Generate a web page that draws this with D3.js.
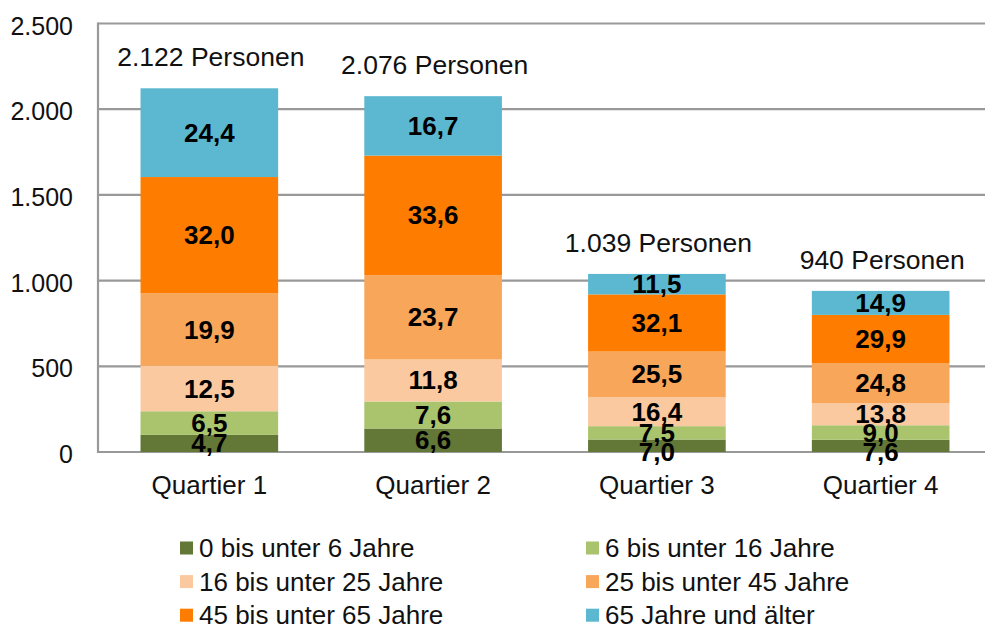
<!DOCTYPE html>
<html>
<head>
<meta charset="utf-8">
<script src="https://cdn.jsdelivr.net/npm/d3@7"></script>
<style>
  body { margin: 0; background: #fff; }
  text { font-family: "Liberation Sans", Arial, sans-serif; }
</style>
</head>
<body>
<div id="app"></div>
<script>
const width = 985,
    height = 628;

// data
const categories = ["Quartier 1", "Quartier 2", "Quartier 3", "Quartier 4"];
const totals = [2122, 2076, 1039, 940];
const totalLabels = ["2.122 Personen", "2.076 Personen", "1.039 Personen", "940 Personen"];
const seriesNames = [
    "0 bis unter 6 Jahre",
    "6 bis unter 16 Jahre",
    "16 bis unter 25 Jahre",
    "25 bis unter 45 Jahre",
    "45 bis unter 65 Jahre",
    "65 Jahre und älter"
];
// percent share per age group, one array per series (Q1..Q4)
const pct0to6 = [4.7, 6.6, 7.0, 7.6];
const pct6to16 = [6.5, 7.6, 7.5, 9.0];
const pct16to25 = [12.5, 11.8, 16.4, 13.8];
const pct25to45 = [19.9, 23.7, 25.5, 24.8];
const pct45to65 = [32.0, 33.6, 32.1, 29.9];
const pct65plus = [24.4, 16.7, 11.5, 14.9];
const yTicks = [0, 500, 1000, 1500, 2000, 2500];

const seriesPct = [pct0to6, pct6to16, pct16to25, pct25to45, pct45to65, pct65plus];
const colors = ["#637736", "#a9c46c", "#fbc9a0", "#f8a65a", "#fe7c00", "#5bb8d0"];

const fmtTick = v => d3.format(",")(v).replace(/,/g, ".");
const fmtPct = v => v.toFixed(1).replace(".", ",");

const x = d3.scaleBand().domain(categories).range([98, 992]).paddingInner(0.385).paddingOuter(0.19);
const y = d3.scaleLinear().domain([0, 2500]).range([452, 23.5]);

const svg = d3.select("#app")
    .append("svg")
    .attr("width", width)
    .attr("height", height);

// gridlines
svg.append("g").selectAll("line")
    .data(yTicks).enter()
    .append("line")
    .attr("x1", 98).attr("x2", width)
    .attr("y1", d => y(d)).attr("y2", d => y(d))
    .attr("stroke", "#999").attr("stroke-width", 2.2);

svg.append("line")
    .attr("x1", 98).attr("x2", 98)
    .attr("y1", y(2500) - 1).attr("y2", y(0) + 1)
    .attr("stroke", "#999").attr("stroke-width", 2.2);

// y tick labels
svg.append("g").selectAll("text")
    .data(yTicks).enter()
    .append("text")
    .attr("x", 73)
    .attr("y", d => y(d) + 11)
    .attr("text-anchor", "end")
    .attr("font-size", 25)
    .attr("fill", "#111")
    .text(fmtTick);

// stack data
const rows = categories.map((c, i) => {
    const row = {cat: c};
    seriesNames.forEach((s, k) => row[s] = totals[i] * seriesPct[k][i] / 100);
    return row;
});
const stacked = d3.stack().keys(seriesNames)(rows);

const layers = svg.append("g").selectAll("g")
    .data(stacked).enter()
    .append("g")
    .attr("fill", (_, k) => colors[k]);

layers.selectAll("rect")
    .data(d => d).enter()
    .append("rect")
    .attr("x", d => x(d.data.cat))
    .attr("width", x.bandwidth())
    .attr("y", d => y(d[1]))
    .attr("height", d => y(d[0]) - y(d[1]));

// value labels, pushed down when they would collide with the label above
const labels = [];
categories.forEach((c, i) => {
    let prev = -Infinity;
    for (let k = seriesNames.length - 1; k >= 0; k--) {
        const seg = stacked[k][i];
        let cy = (y(seg[0]) + y(seg[1])) / 2;
        if (cy < prev + 19) cy = prev + 19;
        prev = cy;
        labels.push({cx: x(c) + x.bandwidth() / 2, cy, text: fmtPct(seriesPct[k][i])});
    }
});

svg.append("g").selectAll("text")
    .data(labels).enter()
    .append("text")
    .attr("x", d => d.cx)
    .attr("y", d => d.cy + 9)
    .attr("text-anchor", "middle")
    .attr("font-size", 26)
    .attr("font-weight", "bold")
    .attr("fill", "#000")
    .text(d => d.text);

// totals
svg.append("g").selectAll("text")
    .data(categories).enter()
    .append("text")
    .attr("x", d => x(d) + x.bandwidth() / 2 + 1.5)
    .attr("y", (d, i) => y(totals[i]) - 22)
    .attr("text-anchor", "middle")
    .attr("font-size", 26.5)
    .attr("fill", "#111")
    .text((d, i) => totalLabels[i]);

// category labels
svg.append("g").selectAll("text")
    .data(categories).enter()
    .append("text")
    .attr("x", d => x(d) + x.bandwidth() / 2)
    .attr("y", 494)
    .attr("text-anchor", "middle")
    .attr("font-size", 26)
    .attr("fill", "#111")
    .text(d => d);

// legend
const legend = svg.append("g").selectAll("g")
    .data(seriesNames).enter()
    .append("g")
    .attr("transform", (d, i) => `translate(${i % 2 === 0 ? 180 : 586}, ${548 + Math.floor(i / 2) * 33.6})`);

legend.append("rect")
    .attr("x", 0).attr("y", -6.5)
    .attr("width", 13).attr("height", 13)
    .attr("fill", (_, i) => colors[i]);

legend.append("text")
    .attr("x", 19)
    .attr("y", 9)
    .attr("font-size", 26)
    .attr("fill", "#111")
    .text(d => d);
</script>
</body>
</html>
